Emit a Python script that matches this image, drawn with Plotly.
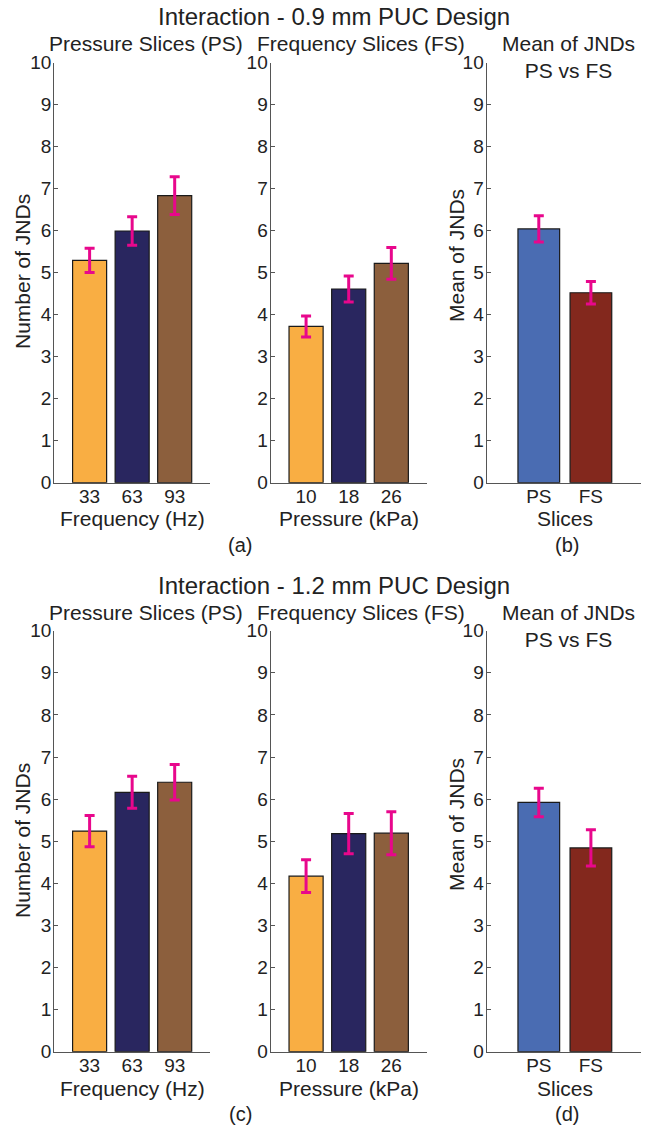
import plotly.graph_objects as go

# ---------------- data ----------------
freq_labels = ["33", "63", "93"]
pres_labels = ["10", "18", "26"]
slice_labels = ["PS", "FS"]

ps_09 = [5.29, 5.99, 6.83]
ps_09_err = [0.29, 0.34, 0.45]
fs_09 = [3.72, 4.61, 5.22]
fs_09_err = [0.25, 0.31, 0.38]
mean_09 = [6.04, 4.52]
mean_09_err = [0.31, 0.27]

ps_12 = [5.24, 6.16, 6.40]
ps_12_err = [0.37, 0.38, 0.42]
fs_12 = [4.17, 5.18, 5.19]
fs_12_err = [0.39, 0.48, 0.51]
mean_12 = [5.92, 4.84]
mean_12_err = [0.34, 0.43]

y_ticks = list(range(0, 11))

slice_colors = ["#F9AE43", "#29265F", "#8C5F3D"]
mean_colors = ["#4A6CB2", "#83281D"]
err_color = "#E8078C"

# the page body adds an 8 px margin; the figure is sized/placed to compensate
PAGE_W, PAGE_H, BODY = 649, 1126, 8
W, H = PAGE_W - BODY, PAGE_H - BODY
FONT = "Liberation Sans, Arial, Helvetica, sans-serif"
TXT = "#222222"


def px(x):
    return (x - BODY) / W


def py(y):
    return 1 - (y - BODY) / H


fig = go.Figure()

# axis geometry (page pixels)
x_doms = [(54.3, 210.0), (270.7, 426.7), (486.7, 643.0)]
row_zero = [482.7, 1051.7]
row_ten = [62.5, 630.7]

panels = [
    (0, 0, ps_09, ps_09_err, freq_labels, slice_colors),
    (0, 1, fs_09, fs_09_err, pres_labels, slice_colors),
    (0, 2, mean_09, mean_09_err, slice_labels, mean_colors),
    (1, 0, ps_12, ps_12_err, freq_labels, slice_colors),
    (1, 1, fs_12, fs_12_err, pres_labels, slice_colors),
    (1, 2, mean_12, mean_12_err, slice_labels, mean_colors),
]

for i, (r, c, vals, errs, labels, cols) in enumerate(panels):
    k = i + 1
    xa = "x" if k == 1 else f"x{k}"
    ya = "y" if k == 1 else f"y{k}"
    pos = list(range(1, len(vals) + 1))
    fig.add_trace(go.Bar(
        x=pos, y=vals, width=0.8,
        marker=dict(color=cols, line=dict(color="#1a1a1a", width=1.2)),
        error_y=dict(type="data", array=errs, visible=True,
                     color=err_color, thickness=3, width=5),
        xaxis=xa, yaxis=ya, showlegend=False, hoverinfo="y",
    ))
    xr = [0.17, 3.83] if len(vals) == 3 else [0.0, 3.0]
    x0, x1 = x_doms[c]
    xkey = "xaxis" if k == 1 else f"xaxis{k}"
    ykey = "yaxis" if k == 1 else f"yaxis{k}"
    fig.layout[xkey] = dict(
        domain=[px(x0), px(x1)], anchor=ya, range=xr, automargin=False,
        tickvals=pos, ticktext=labels, ticks="", showline=True,
        ticklabelstandoff=-4,
        linecolor="#555555", linewidth=1.3, showgrid=False, zeroline=False,
        tickfont=dict(family=FONT, size=19, color=TXT), fixedrange=True,
    )
    fig.layout[ykey] = dict(
        domain=[py(row_zero[r]), py(row_ten[r])], anchor=xa, range=[0, 10],
        automargin=False, ticklabelstandoff=-2,
        tickvals=y_ticks, ticks="inside", ticklen=4, tickcolor="#555555",
        showline=True, linecolor="#555555", linewidth=1.3, showgrid=False,
        zeroline=False, tickfont=dict(family=FONT, size=19, color=TXT),
        fixedrange=True,
    )

annotations = []


def add_text(text, x, y, size, angle=0):
    annotations.append(dict(
        text=text, x=px(x), y=py(y), xref="paper", yref="paper",
        showarrow=False, xanchor="center", yanchor="middle", textangle=angle,
        borderpad=0, font=dict(family=FONT, size=size, color=TXT),
    ))


titles = ["Interaction - 0.9 mm PUC Design", "Interaction - 1.2 mm PUC Design"]
letters = [("(a)", "(b)"), ("(c)", "(d)")]
for r in range(2):
    off = row_zero[r] - row_zero[0]
    add_text(titles[r], 334, 17 + off, 24)
    add_text("Pressure Slices (PS)", 146, 43 + off, 21)
    add_text("Frequency Slices (FS)", 361, 43 + off, 21)
    add_text("Mean of JNDs<br>PS vs FS", 568, 57 + off, 21)
    add_text("Frequency (Hz)", 132, 519 + off, 21)
    add_text("Pressure (kPa)", 349, 519 + off, 21)
    add_text("Slices", 565, 519 + off, 21)
    add_text(letters[r][0], 240, 545 + off, 20)
    add_text(letters[r][1], 567, 545 + off, 20)
    add_text("Number of JNDs", 22, 272 + off, 21, -90)
    add_text("Mean of JNDs", 456, 256 + off, 21, -90)

fig.update_layout(
    width=W, height=H, margin=dict(l=0, r=0, t=0, b=0, autoexpand=False),
    paper_bgcolor="white", plot_bgcolor="white",
    annotations=annotations, bargap=0.2,
    font=dict(family=FONT, color=TXT),
)

fig.write_html("out.html")
